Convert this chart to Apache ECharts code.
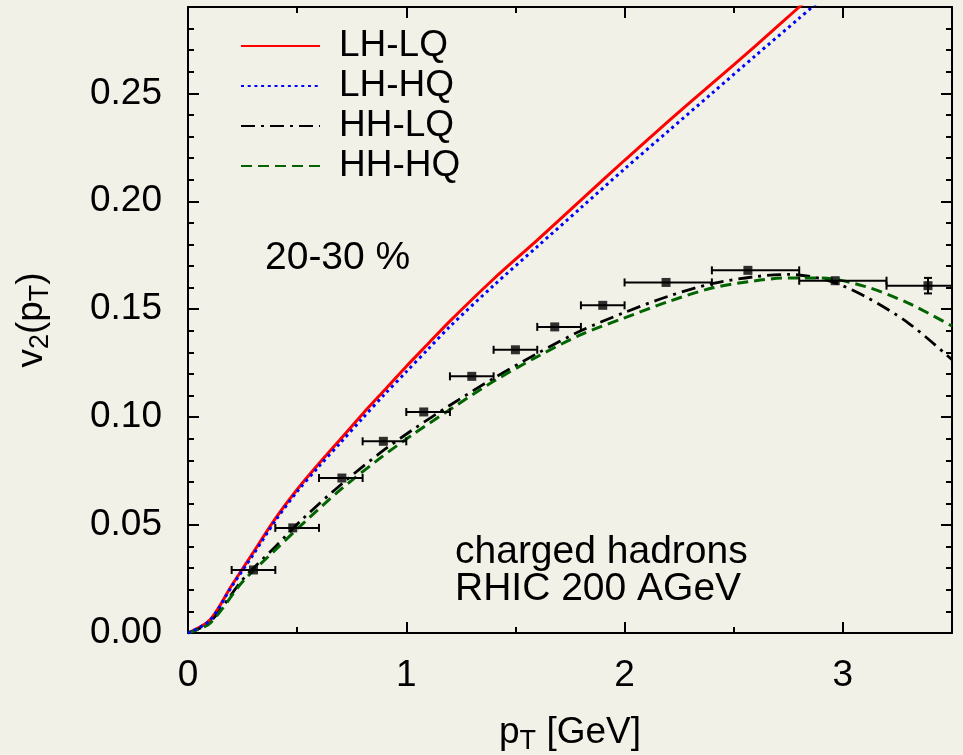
<!DOCTYPE html>
<html>
<head>
<meta charset="utf-8">
<script src="https://cdn.jsdelivr.net/npm/echarts@6/dist/echarts.min.js"></script>
<style>
  html, body { margin: 0; padding: 0; background: #f2f1e7; }
  #chart { width: 963px; height: 755px; }
</style>
</head>
<body>
<div id="chart"></div>
<script>
// Elliptic flow v2(pT), charged hadrons, 20-30 % centrality, RHIC 200 AGeV

// Model curves: transverse momentum [GeV] and v2
const lhlqPt = [0, 0.1, 0.2, 0.3, 0.4, 0.5, 0.6, 0.7, 0.8, 0.9, 1.0, 1.1, 1.2, 1.4, 1.6, 1.8, 2.0, 2.2, 2.4, 2.6, 2.8, 2.9];
const lhlqV2 = [0, 0.006, 0.022, 0.0375, 0.053, 0.0665, 0.0785, 0.0900, 0.1015, 0.1125, 0.1235, 0.134, 0.1445, 0.164, 0.182, 0.2005, 0.219, 0.237, 0.2545, 0.272, 0.29, 0.299];

const lhhqPt = [0, 0.1, 0.2, 0.3, 0.4, 0.5, 0.6, 0.7, 0.8, 0.9, 1.0, 1.1, 1.2, 1.4, 1.6, 1.8, 2.0, 2.2, 2.4, 2.6, 2.8, 2.9];
const lhhqV2 = [0, 0.0058, 0.0215, 0.0365, 0.052, 0.0655, 0.0772, 0.0883, 0.0995, 0.1105, 0.121, 0.1315, 0.142, 0.161, 0.179, 0.197, 0.215, 0.2325, 0.25, 0.2675, 0.2848, 0.2935];

const hhlqPt = [0, 0.1, 0.25, 0.4, 0.53, 0.7, 0.88, 1.03, 1.2, 1.4, 1.6, 1.8, 2.0, 2.2, 2.4, 2.6, 2.75, 2.93, 3.1, 3.3, 3.5];
const hhlqV2 = [0, 0.005, 0.0247, 0.040, 0.0533, 0.0687, 0.0834, 0.0942, 0.1055, 0.118, 0.1295, 0.140, 0.1485, 0.156, 0.1618, 0.1651, 0.1661, 0.1634, 0.156, 0.1436, 0.1266];

const hhhqPt = [0, 0.1, 0.25, 0.4, 0.53, 0.7, 0.88, 1.03, 1.2, 1.4, 1.6, 1.8, 2.0, 2.2, 2.4, 2.6, 2.75, 2.9, 3.1, 3.3, 3.5];
const hhhqV2 = [0, 0.0045, 0.0237, 0.0385, 0.051, 0.0665, 0.081, 0.092, 0.1035, 0.1166, 0.128, 0.1382, 0.146, 0.1535, 0.1598, 0.1632, 0.1645, 0.1645, 0.1606, 0.1528, 0.1422];

// Measured points: mean pT, bin edges, v2 and its error
const dataPt   = [0.30, 0.48, 0.705, 0.895, 1.08, 1.30, 1.50, 1.68, 1.90, 2.19, 2.565, 2.965, 3.39];
const dataLow  = [0.2, 0.4, 0.6, 0.8, 1.0, 1.2, 1.4, 1.6, 1.8, 2.0, 2.4, 2.8, 3.2];
const dataHigh = [0.4, 0.6, 0.8, 1.0, 1.2, 1.4, 1.6, 1.8, 2.0, 2.4, 2.8, 3.2, 3.6];
const dataV2   = [0.0292, 0.0487, 0.0718, 0.0888, 0.1024, 0.1189, 0.1312, 0.1418, 0.1518, 0.1624, 0.168, 0.1632, 0.1609];
const dataErr  = [0, 0, 0, 0, 0, 0, 0, 0, 0, 0, 0, 0, 0.0036];

// Axis ranges and tick steps
const xRange = [0, 3.5];
const yRange = [0, 0.29];
const xMajor = 1, xMinor = 0.5;
const yMajor = 0.05, yMinor = 0.01;

const seriesNames = ['LH-LQ', 'LH-HQ', 'HH-LQ', 'HH-HQ'];

const FONT = 'Liberation Sans, Arial, Helvetica, sans-serif';
const FS = 37;
const FS_NOTE = 39;
const INK = '#000000';

const zip = (xs, ys) => xs.map((x, i) => [x, ys[i]]);

const chart = echarts.init(document.getElementById('chart'), null, { renderer: 'canvas' });

function xAx(position, interval, tickLen, labels, showLine, extra) {
  return Object.assign({
    type: 'value', position: position, min: xRange[0], max: xRange[1], interval: interval,
    axisLine: { show: showLine, onZero: false, lineStyle: { color: INK, width: 2 } },
    axisTick: { show: true, inside: true, length: tickLen, lineStyle: { color: INK, width: 2 } },
    axisLabel: labels ? { show: true, color: INK, fontSize: FS, fontFamily: FONT, margin: 24,
                          showMaxLabel: false } : { show: false },
    splitLine: { show: false }
  }, extra || {});
}
function yAx(position, interval, tickLen, labels, showLine, extra) {
  return Object.assign({
    type: 'value', position: position, min: yRange[0], max: yRange[1], interval: interval,
    axisLine: { show: showLine, onZero: false, lineStyle: { color: INK, width: 2 } },
    axisTick: { show: true, inside: true, length: tickLen, lineStyle: { color: INK, width: 2 } },
    axisLabel: labels ? { show: true, color: INK, fontSize: FS, fontFamily: FONT, margin: 26,
                          showMaxLabel: false,
                          formatter: v => v.toFixed(2) } : { show: false },
    splitLine: { show: false }
  }, extra || {});
}

const subStyle = { fontSize: 27, fontFamily: FONT, color: INK, lineHeight: 26, verticalAlign: 'bottom' };

const option = {
  backgroundColor: '#f2f1e7',
  animation: false,
  grid: { left: 188, right: 11, top: 7, bottom: 122, containLabel: false, outerBoundsMode: 'none' },
  xAxis: [
    xAx('bottom', xMajor, 11, true, true, {
      name: 'p{sub|T} [GeV]',
      nameLocation: 'middle', nameGap: 78,
      nameTextStyle: { color: INK, fontSize: FS, fontFamily: FONT, lineHeight: 44, rich: { sub: subStyle } }
    }),
    xAx('bottom', xMinor, 6, false, false),
    xAx('top', xMajor, 11, false, true),
    xAx('top', xMinor, 6, false, false)
  ],
  yAxis: [
    yAx('left', yMajor, 11, true, true, {
      name: 'v{sub|2}(p{sub|T})',
      nameLocation: 'middle', nameGap: 134, nameRotate: 90,
      nameTextStyle: { color: INK, fontSize: FS, fontFamily: FONT, lineHeight: 44, rich: { sub: subStyle } }
    }),
    yAx('left', yMinor, 6, false, false),
    yAx('right', yMajor, 11, false, true),
    yAx('right', yMinor, 6, false, false)
  ],
  legend: {
    data: seriesNames,
    orient: 'vertical',
    left: 235, top: 21,
    itemWidth: 79, itemHeight: 14, itemGap: 0,
    itemStyle: { opacity: 0, color: 'transparent', borderWidth: 0 },
    textStyle: { color: INK, fontSize: FS, fontFamily: FONT, lineHeight: 40, padding: [0, 0, 0, 14] },
    selectedMode: false
  },
  graphic: [
    { type: 'text', x: 265, y: 258, style: { text: '20-30 %', fill: INK, font: FS_NOTE + 'px ' + FONT, textVerticalAlign: 'middle' } },
    { type: 'text', x: 455, y: 552, style: { text: 'charged hadrons', fill: INK, font: FS_NOTE + 'px ' + FONT, textVerticalAlign: 'middle' } },
    { type: 'text', x: 455, y: 589, style: { text: 'RHIC 200 AGeV', fill: INK, font: FS_NOTE + 'px ' + FONT, textVerticalAlign: 'middle' } }
  ],
  series: [
    {
      name: 'LH-LQ', type: 'line', data: zip(lhlqPt, lhlqV2), showSymbol: false, symbol: 'none',
      smooth: 0.3, clip: true, z: 4,
      lineStyle: { color: '#ff0000', width: 3, type: 'solid' }, itemStyle: { color: '#ff0000' }
    },
    {
      name: 'LH-HQ', type: 'line', data: zip(lhhqPt, lhhqV2), showSymbol: false, symbol: 'none',
      smooth: 0.3, clip: true, z: 5,
      lineStyle: { color: '#0000ff', width: 3, type: [3, 3.7] }, itemStyle: { color: '#0000ff' }
    },
    {
      name: 'HH-LQ', type: 'line', data: zip(hhlqPt, hhlqV2), showSymbol: false, symbol: 'none',
      smooth: 0.3, clip: true, z: 4,
      lineStyle: { color: '#000000', width: 2.8, type: [14, 6, 3, 6] }, itemStyle: { color: '#000000' }
    },
    {
      name: 'HH-HQ', type: 'line', data: zip(hhhqPt, hhhqV2), showSymbol: false, symbol: 'none',
      smooth: 0.3, clip: true, z: 4,
      lineStyle: { color: '#006400', width: 3, type: [11, 6] }, itemStyle: { color: '#006400' }
    },
    {
      name: 'errors', type: 'custom', z: 6,
      data: dataPt.map((x, i) => [x, dataV2[i], dataLow[i], dataHigh[i], dataErr[i]]),
      renderItem: function (params, api) {
        const cs = params.coordSys;
        const p = api.coord([api.value(0), api.value(1)]);
        const lo = api.coord([api.value(2), api.value(1)]);
        const hi = api.coord([api.value(3), api.value(1)]);
        const ey = api.value(4);
        const style = { stroke: INK, lineWidth: 2 };
        const cap = 4;
        const children = [
          { type: 'line', shape: { x1: lo[0], y1: p[1], x2: hi[0], y2: p[1] }, style: style },
          { type: 'line', shape: { x1: lo[0], y1: p[1] - cap, x2: lo[0], y2: p[1] + cap }, style: style },
          { type: 'line', shape: { x1: hi[0], y1: p[1] - cap, x2: hi[0], y2: p[1] + cap }, style: style }
        ];
        if (ey > 0) {
          const top = api.coord([api.value(0), api.value(1) + ey]);
          const bot = api.coord([api.value(0), api.value(1) - ey]);
          children.push(
            { type: 'line', shape: { x1: p[0], y1: top[1], x2: p[0], y2: bot[1] }, style: style },
            { type: 'line', shape: { x1: p[0] - cap, y1: top[1], x2: p[0] + cap, y2: top[1] }, style: style },
            { type: 'line', shape: { x1: p[0] - cap, y1: bot[1], x2: p[0] + cap, y2: bot[1] }, style: style }
          );
        }
        return {
          type: 'group',
          clipPath: { type: 'rect', shape: { x: cs.x, y: cs.y, width: cs.width, height: cs.height } },
          children: children
        };
      }
    },
    {
      name: 'data', type: 'scatter', z: 7,
      data: zip(dataPt, dataV2),
      symbol: 'rect', symbolSize: 9,
      itemStyle: { color: INK }
    }
  ]
};

chart.setOption(option);
</script>
</body>
</html>
